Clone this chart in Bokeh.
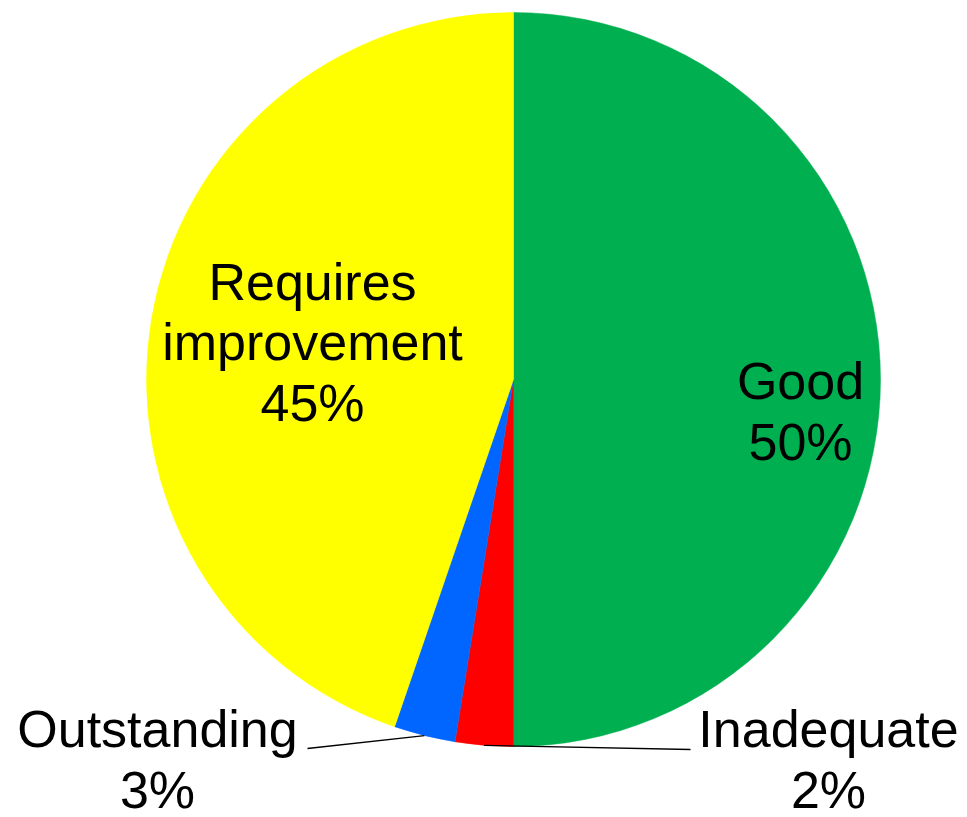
import math
from bokeh.plotting import figure
from bokeh.models import Range1d, ColumnDataSource
from bokeh.core.properties import value
from bokeh.embed import file_html
from bokeh.resources import INLINE

# ---- data ----
categories = ["Good", "Inadequate", "Outstanding", "Requires improvement"]
shares = [50.0, 2.55, 2.7, 44.75]
pct_labels = ["50%", "2%", "3%", "45%"]
name_labels = ["Good", "Inadequate", "Outstanding", "Requires\nimprovement"]
colors = ["#00B050", "#FF0000", "#0066FF", "#FFFF00"]

# ---- layout (reference pixel coords, y measured downward) ----
W, H = 967, 817
PAGE_H = 817
CX, CY, R = 513, 379, 367
label_pos = {
    "Good": (800, 411),
    "Inadequate": (828, 759),
    "Outstanding": (157, 759),
    "Requires improvement": (312, 342),
}
leader_end = {
    "Inadequate": (690, 749),
    "Outstanding": (307, 748),
}

def yd(ypix):
    return PAGE_H - ypix

total = sum(shares)
starts, ends, mids = [], [], []
cum = 0.0
for s in shares:
    a0 = math.pi / 2 - 2 * math.pi * cum / total
    cum += s
    a1 = math.pi / 2 - 2 * math.pi * cum / total
    starts.append(a0)
    ends.append(a1)
    mids.append((a0 + a1) / 2)

p = figure(width=W, height=H, output_backend="svg", toolbar_location=None,
           x_range=Range1d(0, W), y_range=Range1d(PAGE_H - H, PAGE_H),
           min_border=0, outline_line_color=None)
p.axis.visible = False
p.grid.visible = False
p.background_fill_color = "white"
p.border_fill_color = "white"

src = ColumnDataSource(dict(start=starts, end=ends, color=colors, cat=categories))
p.wedge(x=CX, y=yd(CY), radius=R, start_angle="start", end_angle="end",
        direction="clock", fill_color="color", line_color="color", line_width=0.5,
        source=src)

# leader lines for small slices
for i, cat in enumerate(categories):
    if cat in leader_end:
        sx = CX + R * math.cos(mids[i])
        sy = yd(CY) + R * math.sin(mids[i])
        ex, ey = leader_end[cat]
        p.line([sx, ex], [sy, yd(ey)], line_color="black", line_width=1.3)

# labels
lx, ly, lt = [], [], []
for i, cat in enumerate(categories):
    x, y = label_pos[cat]
    lx.append(x)
    ly.append(yd(y))
    lt.append(name_labels[i] + "\n" + pct_labels[i])
p.text(x=lx, y=ly, text=lt, text_font=value("Liberation Sans"),
       text_font_size="52px", text_align="center", text_baseline="middle",
       text_line_height=1.045, text_color="black")

open("out.html", "w").write(file_html(p, INLINE))
